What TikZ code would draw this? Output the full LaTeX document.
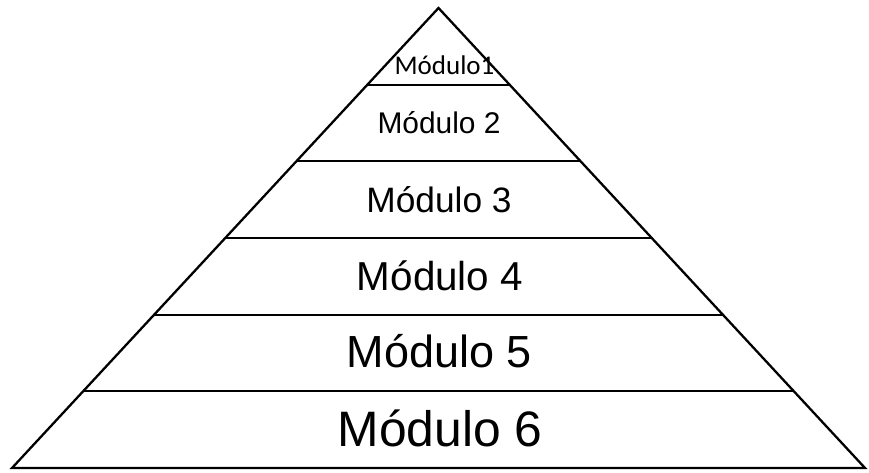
\documentclass[tikz,border=0pt]{standalone}
\usepackage{fontspec}
\setmainfont{Liberation Sans}
\newfontfamily\carl{Carlito}
\usetikzlibrary{calc}
\begin{document}
\begin{tikzpicture}[x=1pt,y=-1pt,
  edge/.style={line width=2.3pt,line join=miter},
  lab/.style={inner sep=0pt,anchor=center,text=black}]
\useasboundingbox (0,0) rectangle (869,472);
\coordinate (A) at (438.5,8);
\coordinate (BL) at (12,468);
\coordinate (BR) at (865,468);
\draw[edge] (A) -- (BL) -- (BR) -- cycle;
\foreach \k in {1,...,5}{
  \coordinate (l\k) at ($(A)!\k/6!(BL)$);
  \coordinate (r\k) at ($(A)!\k/6!(BR)$);
  \draw[edge] (l\k) -- (r\k);
}
\node[lab] (m1) at (444.5,65) {\carl\fontsize{27}{30}\selectfont Módulo1};
\node[lab] (m2) at (439,123) {\fontsize{29.9}{34}\selectfont Módulo 2};
\node[lab] (m3) at (439,199.5) {\fontsize{35.3}{40}\selectfont Módulo 3};
\node[lab] (m4) at (440,276) {\fontsize{40.4}{46}\selectfont Módulo 4};
\node[lab] (m5) at (439.5,351.5) {\fontsize{45}{52}\selectfont Módulo 5};
\node[lab] (m6) at (440,428.5) {\fontsize{49.8}{58}\selectfont Módulo 6};
\end{tikzpicture}
\end{document}
